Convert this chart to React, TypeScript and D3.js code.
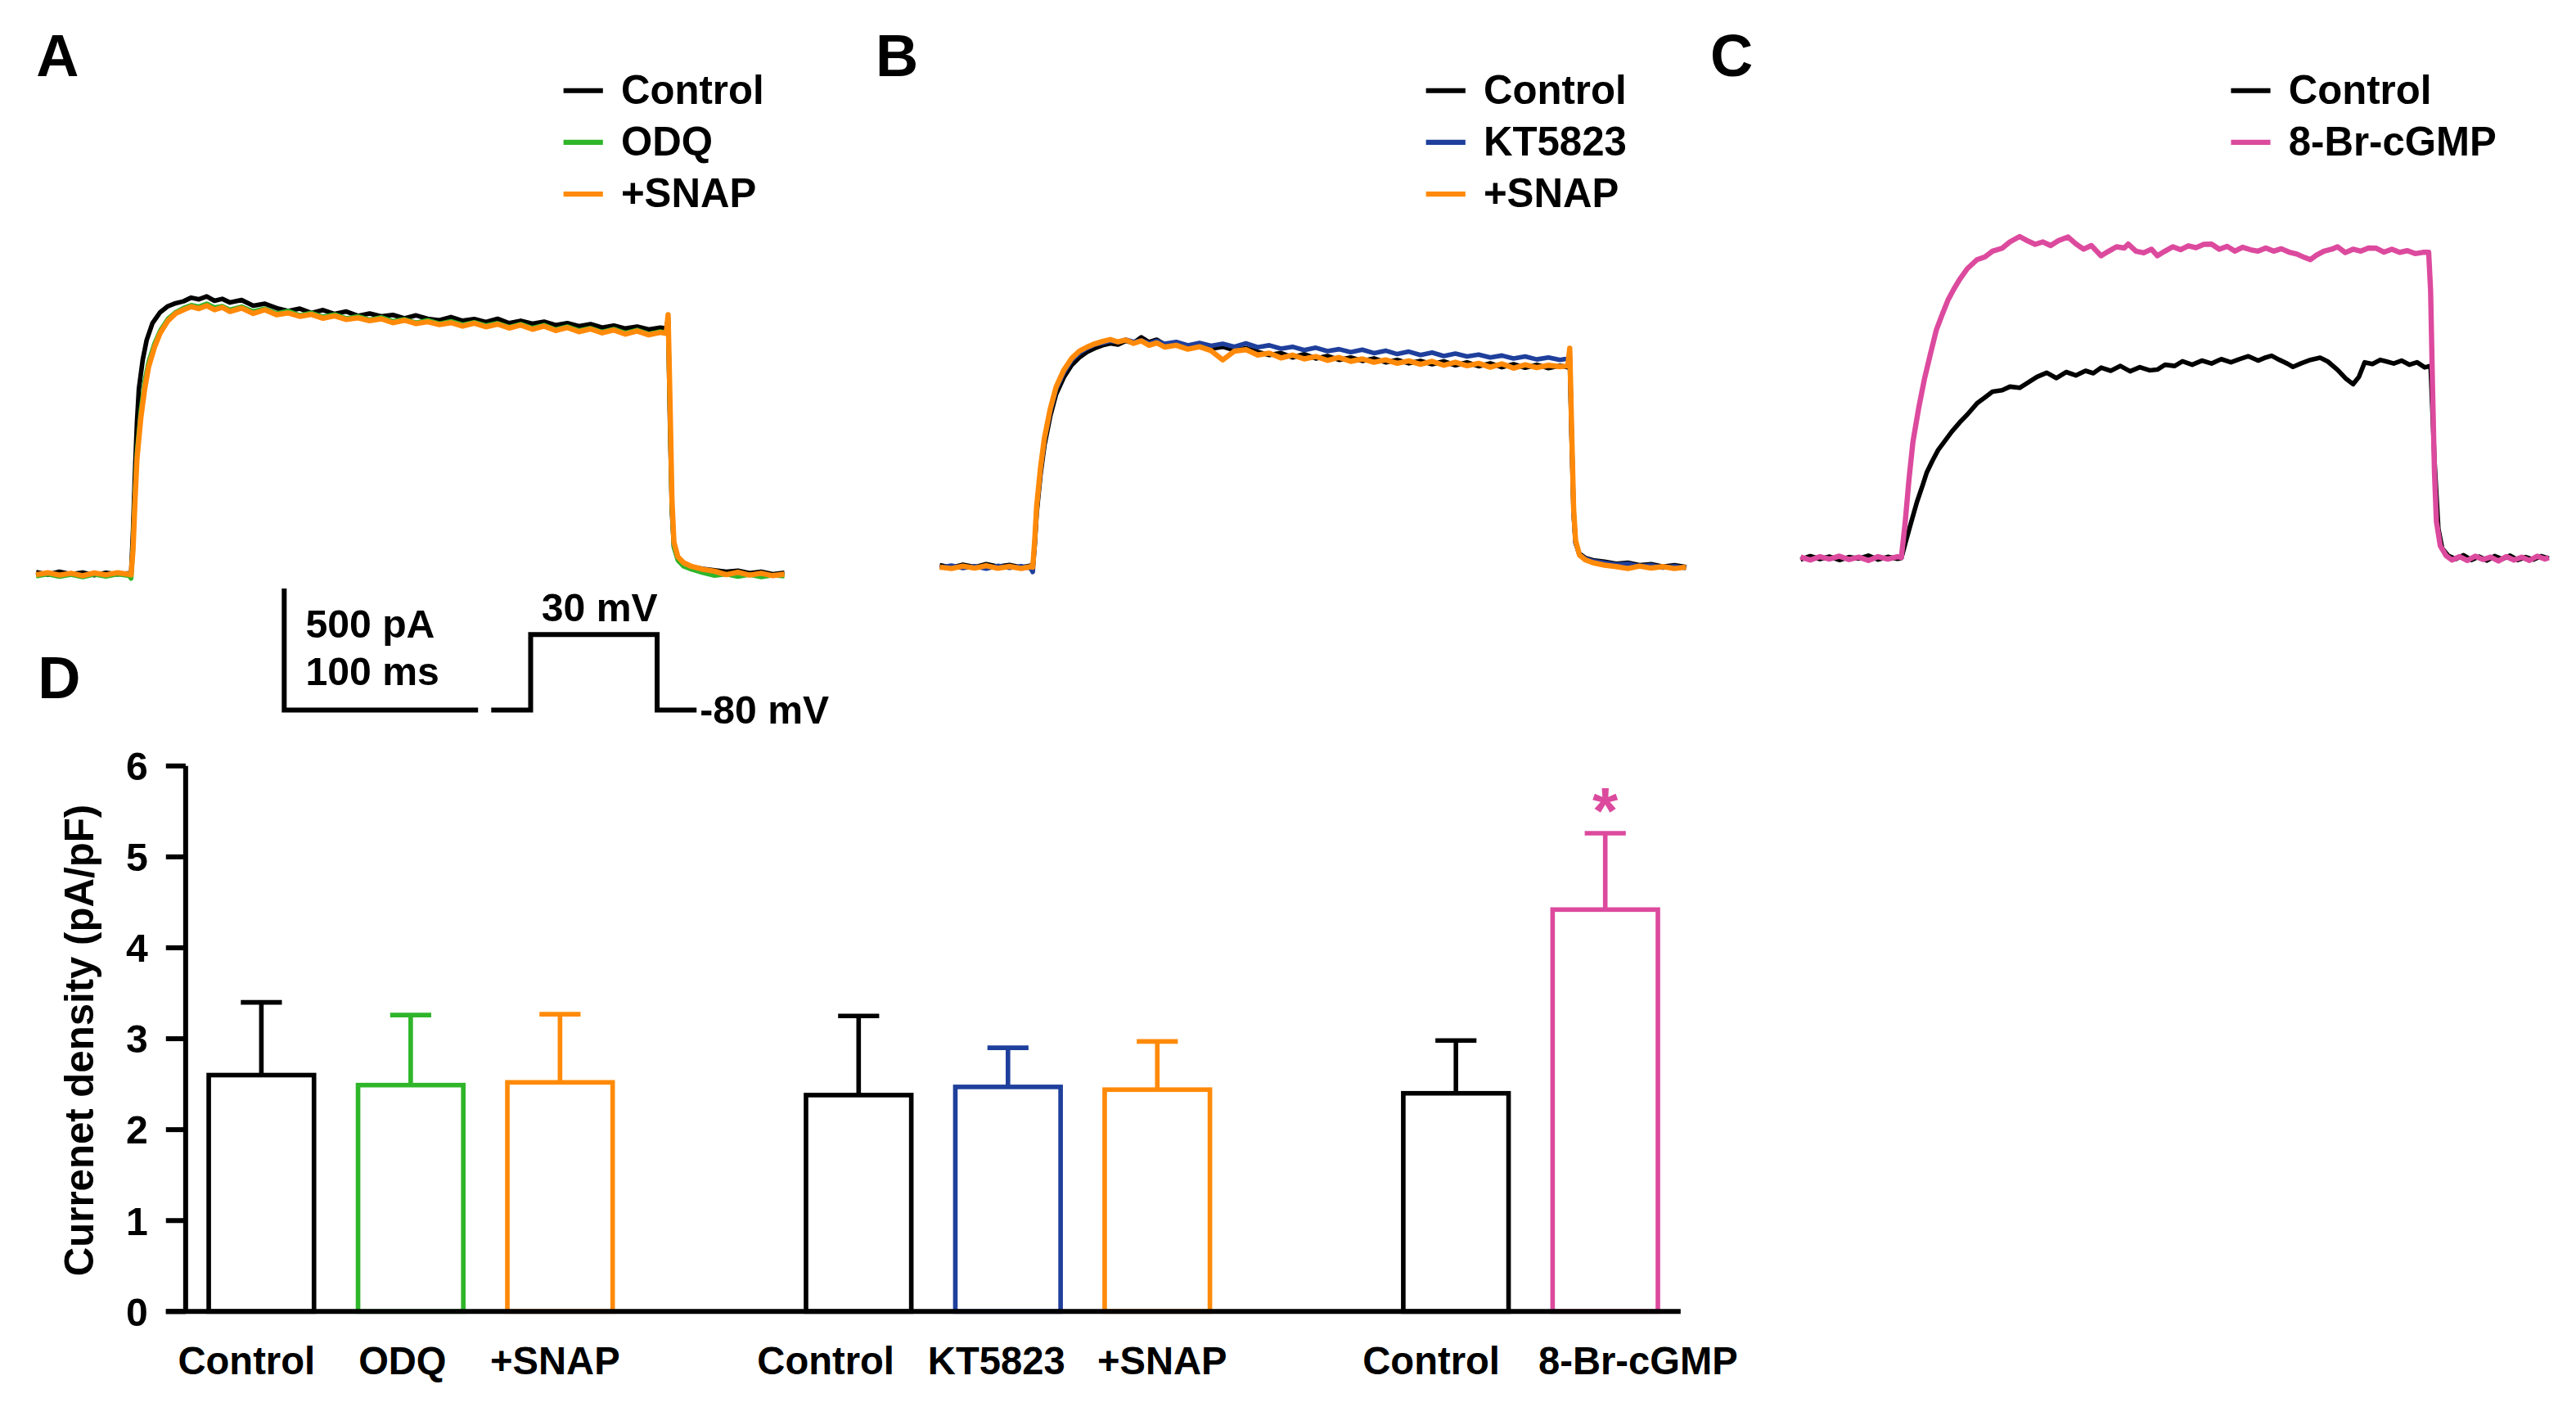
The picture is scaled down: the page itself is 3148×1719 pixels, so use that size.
import React from 'react';
import * as d3 from 'd3';

type Pt = [number, number]; // [time (ms), current (pA)]

const BLACK = '#000000';
const GREEN = '#2fb52a';
const ORANGE = '#ff8a0a';
const BLUE = '#1f3f9c';
const PINK = '#dc4a9e';

// ---- Panel A traces ----
const ctrlA: Pt[] = [[0,6],[6,-4],[12,8],[18,-2],[24,5],[30,-6],[36,4],[42,-3],[48,2],[49,0],[50,180],[51,420],[52,620],[53,760],[55,880],[57,960],[60,1030],[64,1075],[68,1100],[72,1112],[76,1120],[80,1135],[84,1128],[88,1140],[92,1122],[96,1130],[100,1115],[106,1125],[112,1102],[118,1110],[124,1092],[130,1080],[136,1090],[142,1072],[148,1084],[154,1068],[160,1078],[166,1060],[172,1070],[178,1058],[184,1064],[190,1050],[196,1062],[202,1048],[208,1042],[214,1055],[220,1040],[226,1047],[232,1035],[238,1048],[244,1030],[250,1040],[256,1028],[262,1036],[268,1022],[274,1030],[280,1018],[286,1026],[292,1012],[298,1020],[304,1008],[310,1016],[316,1004],[322,1012],[325,1008],[326,1050],[327,600],[328,250],[329,110],[331,60],[334,40],[338,28],[344,20],[350,14],[356,8],[362,12],[368,2],[374,8],[380,-2],[386,4]];
const odqA: Pt[] = [[0,-10],[6,-2],[12,-12],[18,-4],[24,-14],[30,-3],[36,-11],[42,-2],[48,-9],[49,-20],[50,120],[51,330],[52,500],[54,670],[56,790],[58,870],[61,945],[64,1000],[68,1048],[72,1075],[76,1092],[80,1104],[84,1098],[88,1110],[92,1094],[96,1100],[100,1085],[106,1098],[112,1078],[118,1090],[124,1070],[130,1080],[136,1062],[142,1072],[148,1056],[154,1066],[160,1050],[166,1058],[172,1044],[178,1054],[184,1038],[190,1046],[196,1032],[202,1042],[208,1028],[214,1038],[220,1024],[226,1034],[232,1020],[238,1030],[244,1014],[250,1026],[256,1010],[262,1022],[268,1004],[274,1016],[280,1000],[286,1010],[292,994],[298,1006],[304,990],[310,1002],[316,986],[322,996],[325,990],[326,1040],[327,650],[328,270],[329,110],[331,55],[334,30],[338,18],[344,4],[350,-8],[356,-2],[362,-12],[368,-4],[374,-14],[380,-6],[386,-10]];
const snapA: Pt[] = [[0,-4],[6,4],[12,-6],[18,2],[24,-8],[30,3],[36,-5],[42,4],[48,-3],[49,-5],[50,100],[51,300],[52,470],[54,640],[56,760],[58,850],[61,930],[64,990],[68,1040],[72,1070],[76,1085],[80,1098],[84,1090],[88,1102],[92,1085],[96,1095],[100,1078],[106,1092],[112,1070],[118,1085],[124,1065],[130,1072],[136,1058],[142,1066],[148,1050],[154,1060],[160,1045],[166,1052],[172,1040],[178,1048],[184,1032],[190,1042],[196,1028],[202,1036],[208,1024],[214,1032],[220,1018],[226,1030],[232,1015],[238,1026],[244,1010],[250,1022],[256,1005],[262,1018],[268,1000],[274,1012],[280,995],[286,1006],[292,990],[298,1002],[304,985],[310,998],[316,982],[322,992],[325,988],[326,1065],[327,700],[328,300],[329,130],[331,70],[334,45],[338,30],[344,18],[350,10],[356,-4],[362,6],[368,-6],[374,2],[380,-8],[386,-2]];

// ---- Panel B traces ----
const ctrlB: Pt[] = [[0,8],[6,-2],[12,10],[18,0],[24,12],[30,2],[36,9],[42,-1],[47,6],[48,2],[49,90],[50,220],[52,380],[54,500],[57,620],[60,710],[64,780],[68,830],[72,862],[76,885],[80,900],[84,912],[88,920],[92,915],[96,930],[100,922],[104,945],[108,925],[112,935],[116,915],[122,920],[128,905],[134,912],[140,898],[146,906],[152,892],[158,900],[164,885],[170,872],[176,880],[182,862],[188,876],[194,858],[200,868],[206,852],[212,862],[218,848],[224,858],[230,842],[236,852],[242,838],[248,848],[254,834],[260,846],[266,830],[272,842],[278,826],[284,838],[290,822],[296,834],[302,820],[308,832],[314,818],[320,828],[324,822],[325,860],[326,520],[327,220],[328,100],[330,55],[333,38],[337,28],[343,22],[349,14],[355,18],[361,8],[367,12],[373,2],[379,8],[385,0]];
const ktB: Pt[] = [[0,-2],[6,6],[12,-4],[18,4],[24,-6],[30,5],[36,-3],[42,4],[47,-5],[48,-20],[49,100],[50,240],[52,400],[54,520],[57,640],[60,730],[64,800],[68,850],[72,880],[76,900],[80,915],[84,922],[88,930],[92,925],[96,935],[100,926],[104,932],[108,920],[112,930],[116,918],[122,926],[128,912],[134,922],[140,910],[146,918],[152,906],[158,920],[164,904],[170,912],[176,898],[182,906],[188,892],[194,902],[200,888],[206,896],[212,884],[218,894],[224,880],[230,890],[236,876],[242,886],[248,872],[254,882],[260,868],[266,878],[272,866],[278,874],[284,862],[290,870],[296,858],[302,866],[308,854],[314,862],[320,852],[324,858],[325,880],[326,540],[327,230],[328,100],[330,50],[333,35],[337,25],[343,18],[349,10],[355,14],[361,4],[367,8],[373,-2],[379,4],[385,-4]];
const snapB: Pt[] = [[0,0],[6,-6],[12,4],[18,-4],[24,6],[30,-5],[36,3],[42,-6],[47,2],[48,0],[49,110],[50,250],[52,410],[54,530],[57,650],[60,740],[64,810],[68,858],[72,888],[76,905],[80,918],[84,928],[88,936],[92,926],[96,934],[100,920],[104,930],[108,912],[112,922],[116,905],[122,912],[128,896],[134,906],[140,890],[146,852],[152,888],[158,894],[164,872],[170,880],[176,860],[182,872],[188,856],[194,866],[200,850],[206,862],[212,846],[218,856],[224,842],[230,852],[236,838],[242,848],[248,834],[254,846],[260,830],[266,842],[272,828],[278,838],[284,822],[290,836],[296,818],[302,832],[308,820],[314,830],[320,824],[324,828],[325,900],[326,560],[327,240],[328,110],[330,50],[333,30],[337,18],[343,8],[349,2],[355,-6],[361,4],[367,-4],[373,2],[379,-6],[385,0]];

// ---- Panel C traces ----
const ctrlC: Pt[] = [[0,-6],[5,8],[10,-4],[15,6],[20,-8],[25,4],[30,-2],[35,10],[40,-6],[45,5],[50,-3],[52,0],[54,60],[57,146],[60,230],[63,300],[65,350],[68,400],[71,445],[74,477],[78,520],[82,557],[86,590],[91,636],[95,660],[99,684],[104,690],[108,705],[113,700],[118,725],[122,745],[127,762],[132,740],[137,765],[142,751],[147,770],[151,760],[155,783],[160,770],[165,790],[170,768],[175,785],[180,772],[184,775],[188,795],[193,790],[197,809],[202,795],[207,812],[212,800],[217,818],[222,805],[226,817],[231,830],[236,812],[240,825],[243,832],[247,815],[251,800],[254,786],[258,800],[263,815],[268,824],[272,808],[277,774],[281,740],[285,715],[288,745],[291,805],[295,798],[299,815],[302,809],[306,800],[310,812],[314,795],[318,805],[322,784],[325,790],[327,400],[329,120],[331,40],[334,10],[338,-4],[342,12],[346,-8],[350,6],[354,-10],[358,8],[362,-4],[366,10],[370,-8],[374,4],[378,-6],[382,8],[386,-2]];
const brC: Pt[] = [[0,4],[5,-8],[10,6],[15,-4],[20,8],[25,-6],[30,4],[35,-10],[40,6],[45,-4],[50,6],[52,2],[54,150],[56,330],[58,480],[61,620],[64,740],[67,840],[70,937],[73,1000],[76,1060],[79,1105],[82,1145],[86,1190],[91,1227],[95,1238],[99,1262],[104,1274],[108,1300],[113,1322],[117,1305],[121,1290],[125,1300],[129,1285],[133,1305],[138,1320],[142,1292],[146,1270],[150,1285],[155,1243],[159,1262],[163,1280],[167,1275],[169,1291],[173,1262],[177,1255],[181,1270],[184,1243],[188,1262],[192,1280],[196,1268],[200,1284],[204,1276],[208,1290],[212,1291],[216,1270],[220,1282],[224,1262],[228,1278],[232,1268],[236,1262],[240,1275],[244,1262],[248,1272],[252,1258],[256,1250],[260,1236],[263,1227],[266,1245],[270,1262],[274,1270],[277,1280],[281,1256],[285,1270],[289,1262],[293,1275],[297,1274],[301,1258],[305,1270],[309,1257],[313,1264],[317,1252],[321,1257],[324,1257],[325,1100],[326,700],[327,350],[328,150],[330,50],[333,10],[336,-8],[340,6],[344,-10],[348,8],[352,-6],[356,4],[360,-12],[364,6],[368,-8],[372,4],[376,-10],[380,8],[384,-4],[386,2]];

const legendA = ['Control', 'ODQ', '+SNAP'];
const legendB = ['Control', 'KT5823', '+SNAP'];
const legendC = ['Control', '8-Br-cGMP'];

// ---- Panel D: bar chart ----
const barSlots = ['c1', 'odq', 'snap1', 'gap1', 'c2', 'kt', 'snap2', 'gap2', 'c3', 'br'];
const barKeys = ['c1', 'odq', 'snap1', 'c2', 'kt', 'snap2', 'c3', 'br'];
const barLabels = ['Control', 'ODQ', '+SNAP', 'Control', 'KT5823', '+SNAP', 'Control', '8-Br-cGMP'];
const barMeans = [2.60, 2.49, 2.52, 2.38, 2.47, 2.44, 2.40, 4.42];
const barSems = [0.80, 0.77, 0.75, 0.87, 0.43, 0.53, 0.58, 0.84];
const barColors = [BLACK, GREEN, ORANGE, BLACK, BLUE, ORANGE, BLACK, PINK];
const yTicks = [0, 1, 2, 3, 4, 5, 6];

// voltage protocol (schematic)
const protocolV = [-80, 30, -80];
const protocolDur = [24, 77, 24];

const W = 1568;
const H = 856;
const FONT = "'Liberation Sans', Arial, Helvetica, sans-serif";
const PX_PER_MS = 1.18;
const PX_PER_PA = 0.148;
// horizontal nudge of each category label relative to its bar centre
const LABEL_SHIFT = [-9, -5, -3, -20, -7, 3, -15, 20];

const panels = [
  { letter: 'A', letterX: 22, x0: 22, base: 349, legendX: 343, names: legendA, colors: [BLACK, GREEN, ORANGE], traces: [ctrlA, odqA, snapA] },
  { letter: 'B', letterX: 533, x0: 572, base: 345, legendX: 868, names: legendB, colors: [BLACK, BLUE, ORANGE], traces: [ctrlB, ktB, snapB] },
  { letter: 'C', letterX: 1041, x0: 1096, base: 339.5, legendX: 1358, names: legendC, colors: [BLACK, PINK], traces: [ctrlC, brC] },
];

const App = () => {
  // bar chart scales
  const xBar = d3.scaleBand<string>().domain(barSlots).range([113.6, 1022.6]).paddingInner(0.295).paddingOuter(0.148);
  const yBar = d3.scaleLinear().domain([0, 6]).range([798, 466]);
  const bw = xBar.bandwidth();

  // scale bar + protocol
  const sbX = d3.scaleLinear().domain([0, 100]).range([173, 173 + 100 * PX_PER_MS]);
  const sbY = d3.scaleLinear().domain([0, 500]).range([432, 432 - 500 * PX_PER_PA]);
  const protT = d3.scaleLinear().domain([0, d3.sum(protocolDur)]).range([299, 424]);
  const protY = d3.scaleLinear().domain([-80, 30]).range([432, 386]);
  const protPts: [number, number][] = [];
  let acc = 0;
  protocolV.forEach((v, i) => {
    protPts.push([protT(acc), protY(v)]);
    acc += protocolDur[i];
    protPts.push([protT(acc), protY(v)]);
  });

  const txt = { fontFamily: FONT, fontWeight: 700 as const };

  return (
    <div style={{ position: 'absolute', left: 0, top: 0 }}>
      <svg width={3148} height={1719} viewBox={`0 0 ${W} ${H}`}>
        <rect x={0} y={0} width={W} height={H} fill="#fff" />
        {panels.map((p) => {
          const x = d3.scaleLinear().domain([0, 386]).range([p.x0, p.x0 + 386 * PX_PER_MS]);
          const y = d3.scaleLinear().domain([0, 1000]).range([p.base, p.base - 1000 * PX_PER_PA]);
          const line = d3.line<Pt>().x((d) => x(d[0])).y((d) => y(d[1]));
          return (
            <g key={p.letter}>
              <text x={p.letterX} y={46} fontSize={36} {...txt}>{p.letter}</text>
              {p.traces.map((tr, i) => (
                <path key={i} d={line(tr) || ''} fill="none" stroke={p.colors[i]} strokeWidth={i === p.traces.length - 1 ? 3.2 : 2.8} strokeLinejoin="round" />
              ))}
              {p.names.map((n, i) => (
                <g key={n + i}>
                  <line x1={p.legendX} x2={p.legendX + 24} y1={55 + i * 31.5} y2={55 + i * 31.5} stroke={p.colors[i]} strokeWidth={3} />
                  <text x={p.legendX + 35} y={63 + i * 31.5} fontSize={24.5} {...txt}>{n}</text>
                </g>
              ))}
            </g>
          );
        })}

        {/* scale bar */}
        <path d={`M${sbX(0)},${sbY(500)}V${sbY(0)}H${sbX(100)}`} fill="none" stroke="#000" strokeWidth={3} />
        <text x={186} y={388} fontSize={24} {...txt}>500 pA</text>
        <text x={186} y={417} fontSize={24} {...txt}>100 ms</text>
        <path d={d3.line()(protPts) || ''} fill="none" stroke="#000" strokeWidth={3} />
        <text x={365} y={378} fontSize={24} textAnchor="middle" {...txt}>30 mV</text>
        <text x={426} y={440} fontSize={24} {...txt}>-80 mV</text>

        {/* panel D */}
        <text x={23} y={425} fontSize={36} {...txt}>D</text>
        {barKeys.map((k, i) => {
          const x0 = xBar(k) as number;
          const cx = x0 + bw / 2;
          const top = yBar(barMeans[i]);
          const err = yBar(barMeans[i] + barSems[i]);
          return (
            <g key={k}>
              <line x1={cx} x2={cx} y1={top} y2={err} stroke={barColors[i]} strokeWidth={2.8} />
              <line x1={cx - 12.5} x2={cx + 12.5} y1={err} y2={err} stroke={barColors[i]} strokeWidth={2.8} />
              <rect x={x0} y={top} width={bw} height={yBar(0) - top} fill="#fff" stroke={barColors[i]} strokeWidth={2.8} />
              <text x={cx + LABEL_SHIFT[i]} y={836} fontSize={23.5} textAnchor="middle" {...txt}>{barLabels[i]}</text>
            </g>
          );
        })}
        <text x={(xBar('br') as number) + bw / 2} y={507} fontSize={40} textAnchor="middle" fill={PINK} {...txt}>*</text>
        {/* axes */}
        <line x1={113} x2={113} y1={yBar(6)} y2={yBar(0)} stroke="#000" strokeWidth={3} />
        <line x1={101} x2={1023} y1={yBar(0)} y2={yBar(0)} stroke="#000" strokeWidth={3} />
        {yTicks.map((t) => (
          <g key={t}>
            <line x1={101} x2={113} y1={yBar(t)} y2={yBar(t)} stroke="#000" strokeWidth={3} />
            <text x={90} y={yBar(t)} dy="0.36em" fontSize={24} textAnchor="end" {...txt}>{t}</text>
          </g>
        ))}
        <text transform={`translate(57,${(yBar(0) + yBar(6)) / 2 + 1}) rotate(-90)`} fontSize={24.5} textAnchor="middle" {...txt}>Currenet density (pA/pF)</text>
      </svg>
    </div>
  );
};

export default App;
